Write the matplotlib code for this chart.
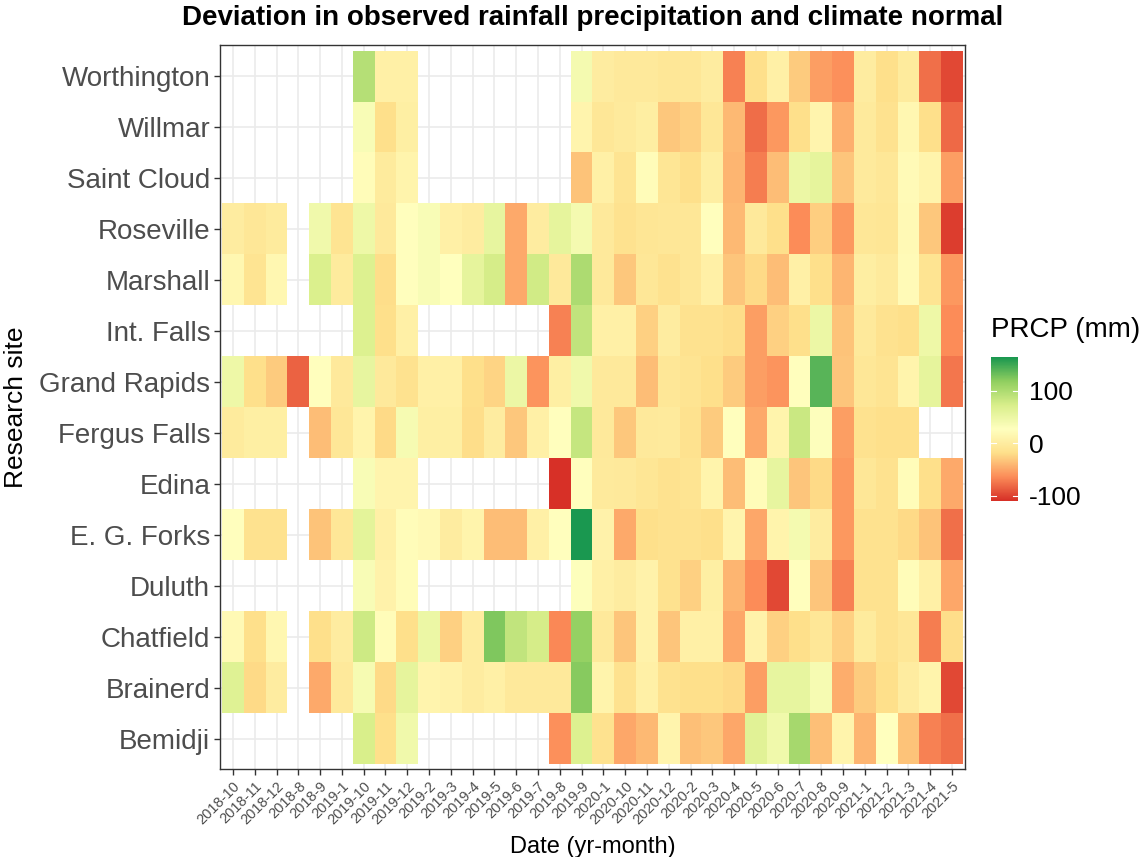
import numpy as np
import matplotlib
matplotlib.use("Agg")
import matplotlib.pyplot as plt
from matplotlib.colors import LinearSegmentedColormap, Normalize

plt.rcParams['font.family'] = ['Liberation Sans', 'DejaVu Sans']
plt.rcParams['axes.unicode_minus'] = False

na = np.nan

months = ["2018-10", "2018-11", "2018-12", "2018-8", "2018-9", "2019-1",
          "2019-10", "2019-11", "2019-12", "2019-2", "2019-3", "2019-4",
          "2019-5", "2019-6", "2019-7", "2019-8", "2019-9", "2020-1",
          "2020-10", "2020-11", "2020-12", "2020-2", "2020-3", "2020-4",
          "2020-5", "2020-6", "2020-7", "2020-8", "2020-9", "2021-1",
          "2021-2", "2021-3", "2021-4", "2021-5"]

# sites from bottom to top
sites = ["Bemidji", "Brainerd", "Chatfield", "Duluth", "E. G. Forks", "Edina",
         "Fergus Falls", "Grand Rapids", "Int. Falls", "Marshall", "Roseville",
         "Saint Cloud", "Willmar", "Worthington"]

# monthly deviation from climate normal (mm), one list per site, same order as months
bemidji = [na, na, na, na, na, na, 72, -18, 45, na, na, na, na, na, na, -62, 68, -15,
           -50, -40, 12, -37, -32, -50, 63, 45, 105, -37, 10, -42, 28, -35, -70, -78]
brainerd = [65, -22, 0, na, -48, -5, 38, -22, 58, 12, 8, 0, 5, -5, -5, -5, 122, 10,
            -15, 5, -15, -18, -18, -22, -55, 55, 55, 38, -46, -30, -18, 0, 10, -98]
chatfield = [18, -18, 15, na, -18, 0, 80, 22, -18, 50, -27, 0, 125, 88, 75, -67, 115, -5,
             -33, 8, -33, 5, 5, -50, 8, -27, -18, -8, -27, -2, -15, -8, -72, -20]
duluth = [na, na, na, na, na, na, 35, 8, 22, na, na, na, na, na, na, na, 30, 5,
          0, 8, -15, -27, 3, -42, -65, -98, 25, -33, -70, -15, -15, 22, 5, -50]
eg_forks = [25, -15, -15, na, -35, -8, 60, 5, 22, 18, 0, 10, -38, -38, 5, 25, 164, 8,
            -48, -18, -15, -15, -18, 12, -50, 10, 40, 0, -58, -15, -15, -22, -35, -78]
edina = [na, na, na, na, na, na, 35, 12, 12, na, na, na, na, na, na, -110, 25, -3,
         -5, -10, -15, -12, 10, -38, 22, 55, -33, -22, -58, -8, -15, 22, -18, -48]
fergus_falls = [-2, 3, 3, na, -38, -8, 10, -22, 38, 3, 3, -20, 0, -32, 5, 25, 85, -5,
                -32, -5, -3, -15, -30, 25, -48, 10, 82, 30, -55, -15, -18, -18, na, na]
grand_rapids = [48, -18, -30, -85, 25, -5, 55, -5, -15, 5, 5, -18, -25, 50, -60, 3, 45, -5,
                -5, -38, -8, -12, -18, -30, -55, -60, 25, 140, -33, -8, -12, 10, 58, -75]
int_falls = [na, na, na, na, na, na, 68, -18, 5, na, na, na, na, na, na, -70, 88, 5,
             5, -27, 0, -15, -15, -20, -55, -27, -18, 50, -35, -5, -15, -18, 48, -65]
marshall = [15, -12, 15, na, 70, -2, 68, -20, 25, 35, 27, 58, 75, -48, 78, -5, 100, -5,
            -32, -8, -15, -8, 5, -33, -22, -38, 5, -18, -42, 2, -3, 20, -12, -58]
roseville = [0, -8, -2, na, 45, -12, 48, -5, 25, 35, 5, 0, 55, -48, 0, 58, 40, -5,
             -15, -10, -8, -8, 25, -40, -5, -18, -65, -28, -58, -8, -10, 18, -32, -103]
saint_cloud = [na, na, na, na, na, na, 22, -2, 10, na, na, na, na, na, na, na, -35, 5,
               -12, 22, -10, -18, 2, -42, -72, -38, 50, 58, -33, -3, -8, 20, 10, -55]
willmar = [na, na, na, na, na, na, 35, -18, 3, na, na, na, na, na, na, na, 12, -8,
           -3, 2, -32, -27, -8, -40, -80, -58, -18, 12, -45, -3, -15, 15, -18, -82]
worthington = [na, na, na, na, na, na, 95, 5, 5, na, na, na, na, na, na, na, 40, 0,
               -5, -5, -8, -8, 0, -70, -19, 5, -30, -55, -62, 0, -18, -2, -78, -98]

prcp = np.array([bemidji, brainerd, chatfield, duluth, eg_forks, edina, fergus_falls,
                 grand_rapids, int_falls, marshall, roseville, saint_cloud, willmar,
                 worthington], dtype=float)

# brewer RdYlGn, 7 classes, stretched over the data range
cmap = LinearSegmentedColormap.from_list(
    "rdylgn7", ["#d73027", "#fc8d59", "#fee08b", "#ffffbf", "#d9ef8b", "#91cf60", "#1a9850"])
norm = Normalize(vmin=np.nanmin(prcp), vmax=np.nanmax(prcp))

fig = plt.figure(figsize=(11.47, 8.57), dpi=100)
ax = fig.add_axes([0.1917, 0.1022, 0.6497, 0.8448])

nx, ny = len(months), len(sites)
xe = np.arange(nx + 1) + 0.5
ye = np.arange(ny + 1) + 0.5
ax.pcolormesh(xe, ye, np.ma.masked_invalid(prcp), cmap=cmap, norm=norm)

ax.set_xlim(0.4, nx + 0.6)
ax.set_ylim(0.4, ny + 0.6)
ax.set_xticks(np.arange(1, nx + 1))
ax.set_xticklabels(months, rotation=45, ha="right", rotation_mode="anchor",
                   fontsize=10.5, color="#4d4d4d")
ax.set_yticks(np.arange(1, ny + 1))
ax.set_yticklabels(sites, fontsize=20, color="#4d4d4d")
ax.tick_params(length=4, width=1, color="#333333", pad=3)
ax.grid(color="#ebebeb", lw=1.2)
ax.set_axisbelow(True)
for sp in ax.spines.values():
    sp.set_color("#333333")
    sp.set_linewidth(1)

ax.set_xlabel("Date (yr-month)", fontsize=17, labelpad=6)
ax.set_ylabel("Research site", fontsize=19, labelpad=8)
fig.text(592.5 / 1147, 1 - 18 / 857, "Deviation in observed rainfall precipitation and climate normal",
         ha="center", va="center", fontsize=20, fontweight="bold")

# colour bar legend
cax = fig.add_axes([991 / 1147, 1 - 501 / 857, 27 / 1147, 144 / 857])
grad = np.linspace(norm.vmin, norm.vmax, 300).reshape(-1, 1)
cax.imshow(grad, aspect="auto", origin="lower", cmap=cmap, norm=norm,
           extent=[0, 1, norm.vmin, norm.vmax])
cax.set_xlim(0, 1)
cax.set_ylim(norm.vmin, norm.vmax)
for v in [-100, 0, 100]:
    cax.plot([0, 0.2], [v, v], color="white", lw=0.8)
    cax.plot([0.8, 1], [v, v], color="white", lw=0.8)
cax.set_xticks([])
cax.set_yticks([-100, 0, 100])
cax.yaxis.tick_right()
cax.tick_params(length=0, pad=8, labelsize=19)
for sp in cax.spines.values():
    sp.set_visible(False)
fig.text(991 / 1147, 1 - 330 / 857, "PRCP (mm)", ha="left", va="center", fontsize=20)

fig.savefig("out.png", dpi=100)
